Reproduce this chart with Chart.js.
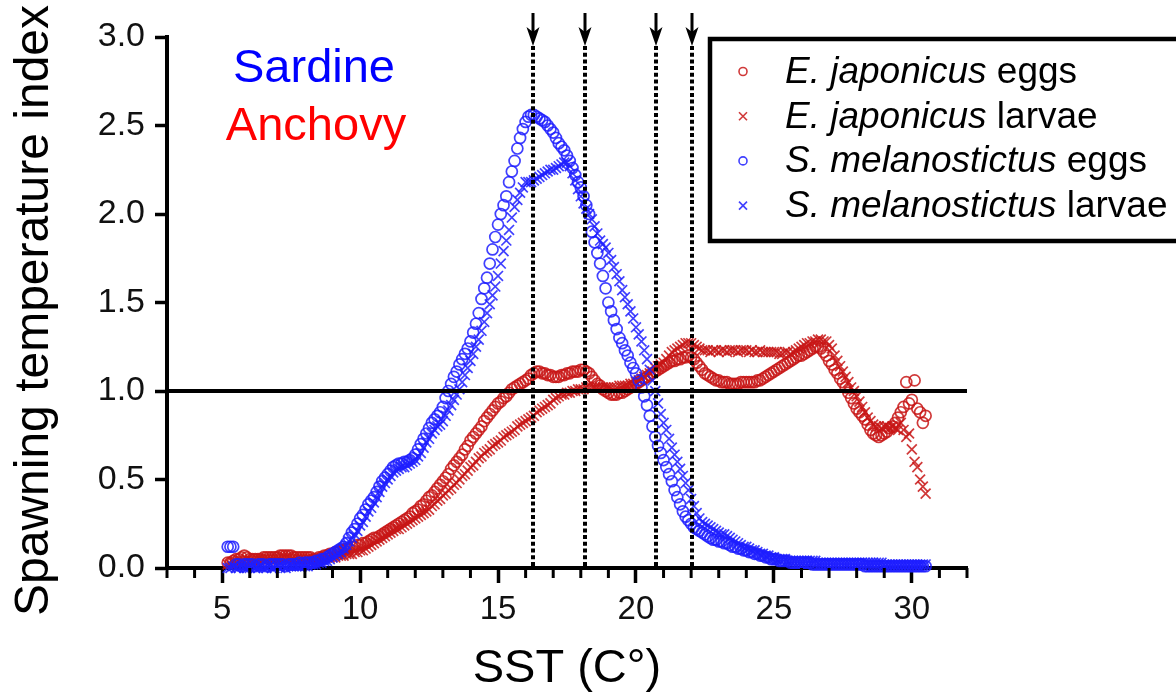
<!DOCTYPE html>
<html>
<head>
<meta charset="utf-8">
<script src="https://cdn.jsdelivr.net/npm/chart.js@4.4.1/dist/chart.umd.min.js"></script>
<style>
html, body { margin: 0; padding: 0; background: #fff; }
canvas { display: block; }
</style>
</head>
<body>
<canvas id="sstChart" width="1176" height="697"></canvas>
<script>
// SST grid: first value at 5.2 °C, one value every 0.1 °C
const sstStart = 5.2;
const sstStep = 0.1;

// S. melanostictus (sardine) eggs
const sardineEggs = [
    0.12, 0.12, 0.12, 0.02, 0.02, 0.01, 0.02, 0.02,
    0.02, 0.02, 0.01, 0.02, 0.02, 0.02, 0.01, 0.02, 0.02, 0.02,
    0.02, 0.02, 0.02, 0.01, 0.02, 0.02, 0.02, 0.02, 0.03, 0.02,
    0.03, 0.03, 0.03, 0.03, 0.04, 0.04, 0.05, 0.05, 0.06, 0.07,
    0.08, 0.09, 0.10, 0.11, 0.12, 0.14, 0.17, 0.20, 0.22, 0.25,
    0.28, 0.30, 0.33, 0.36, 0.38, 0.40, 0.43, 0.46, 0.49, 0.51,
    0.53, 0.55, 0.57, 0.58, 0.59, 0.59, 0.60, 0.60, 0.61, 0.62,
    0.64, 0.67, 0.70, 0.73, 0.76, 0.79, 0.82, 0.84, 0.86, 0.88,
    0.91, 0.96, 1.00, 1.04, 1.08, 1.11, 1.15, 1.18, 1.21, 1.24,
    1.28, 1.33, 1.38, 1.44, 1.52, 1.58, 1.64, 1.72, 1.80, 1.87,
    1.94, 2.00, 2.05, 2.10, 2.18, 2.24, 2.30, 2.37, 2.43, 2.48,
    2.52, 2.55, 2.56, 2.56, 2.55, 2.54, 2.53, 2.52, 2.50, 2.48,
    2.46, 2.43, 2.40, 2.38, 2.36, 2.33, 2.30, 2.26, 2.22, 2.18,
    2.15, 2.10, 2.05, 2.00, 1.90, 1.84, 1.78, 1.72, 1.65, 1.58,
    1.50, 1.45, 1.40, 1.35, 1.30, 1.27, 1.23, 1.20, 1.16, 1.13,
    1.10, 1.06, 1.02, 0.97, 0.92, 0.86, 0.80, 0.74, 0.69, 0.65,
    0.61, 0.57, 0.53, 0.49, 0.44, 0.40, 0.36, 0.32, 0.29, 0.27,
    0.25, 0.23, 0.22, 0.21, 0.20, 0.19, 0.18, 0.17, 0.16, 0.16,
    0.15, 0.15, 0.14, 0.14, 0.13, 0.12, 0.12, 0.11, 0.11, 0.10,
    0.10, 0.09, 0.09, 0.08, 0.08, 0.07, 0.07, 0.06, 0.06, 0.05,
    0.05, 0.05, 0.04, 0.04, 0.04, 0.04, 0.03, 0.03, 0.03, 0.03,
    0.03, 0.03, 0.03, 0.03, 0.02, 0.02, 0.02, 0.02, 0.02, 0.02,
    0.02, 0.02, 0.02, 0.02, 0.02, 0.02, 0.02, 0.02, 0.02, 0.02,
    0.02, 0.02, 0.02, 0.01, 0.01, 0.01, 0.01, 0.01, 0.01, 0.01,
    0.01, 0.01, 0.01, 0.01, 0.01, 0.01, 0.01, 0.01, 0.01, 0.01,
    0.01, 0.01, 0.01, 0.01, 0.01, 0.01
];

// S. melanostictus (sardine) larvae
const sardineLarvae = [
    0.00, 0.00, 0.01, 0.00, 0.00, 0.01, 0.00, 0.00,
    0.00, 0.01, 0.00, 0.00, 0.01, 0.00, 0.00, 0.01, 0.00, 0.00,
    0.01, 0.00, 0.01, 0.00, 0.01, 0.01, 0.01, 0.01, 0.01, 0.01,
    0.01, 0.01, 0.02, 0.02, 0.02, 0.03, 0.03, 0.04, 0.04, 0.05,
    0.06, 0.07, 0.08, 0.09, 0.11, 0.13, 0.15, 0.17, 0.19, 0.21,
    0.24, 0.26, 0.29, 0.32, 0.34, 0.37, 0.40, 0.43, 0.46, 0.48,
    0.50, 0.52, 0.54, 0.55, 0.56, 0.57, 0.57, 0.58, 0.59, 0.60,
    0.61, 0.63, 0.65, 0.68, 0.71, 0.73, 0.76, 0.78, 0.80, 0.81,
    0.83, 0.86, 0.89, 0.92, 0.95, 0.98, 1.01, 1.05, 1.09, 1.13,
    1.17, 1.21, 1.25, 1.29, 1.34, 1.39, 1.44, 1.49, 1.54, 1.59,
    1.65, 1.72, 1.79, 1.85, 1.91, 1.98, 2.04, 2.08, 2.12, 2.15,
    2.18, 2.18, 2.18, 2.19, 2.20, 2.21, 2.22, 2.23, 2.24, 2.25,
    2.25, 2.26, 2.27, 2.28, 2.29, 2.29, 2.27, 2.23, 2.19, 2.14,
    2.10, 2.06, 2.03, 2.00, 1.97, 1.93, 1.89, 1.85, 1.83, 1.81,
    1.78, 1.74, 1.70, 1.66, 1.62, 1.57, 1.53, 1.49, 1.45, 1.41,
    1.36, 1.32, 1.28, 1.23, 1.18, 1.12, 1.06, 1.00, 0.93, 0.87,
    0.82, 0.78, 0.73, 0.68, 0.64, 0.60, 0.56, 0.52, 0.48, 0.44,
    0.39, 0.35, 0.31, 0.28, 0.26, 0.25, 0.24, 0.23, 0.22, 0.21,
    0.20, 0.19, 0.19, 0.18, 0.17, 0.16, 0.15, 0.14, 0.13, 0.12,
    0.12, 0.11, 0.10, 0.10, 0.09, 0.08, 0.08, 0.07, 0.07, 0.06,
    0.06, 0.05, 0.05, 0.05, 0.05, 0.04, 0.04, 0.04, 0.04, 0.04,
    0.04, 0.04, 0.04, 0.04, 0.04, 0.04, 0.03, 0.03, 0.03, 0.03,
    0.03, 0.03, 0.03, 0.03, 0.03, 0.03, 0.03, 0.03, 0.03, 0.03,
    0.03, 0.03, 0.03, 0.03, 0.03, 0.03, 0.03, 0.03, 0.03, 0.03,
    0.02, 0.02, 0.02, 0.02, 0.02, 0.02, 0.02, 0.02, 0.02, 0.02,
    0.02, 0.02, 0.02, 0.02, 0.02, 0.02
];

// E. japonicus (anchovy) eggs
const anchovyEggs = [
    0.03, 0.03, 0.04, 0.05, 0.05, 0.06, 0.07, 0.06,
    0.05, 0.05, 0.05, 0.05, 0.05, 0.06, 0.06, 0.06, 0.06, 0.06,
    0.06, 0.07, 0.07, 0.07, 0.07, 0.07, 0.06, 0.06, 0.06, 0.06,
    0.06, 0.06, 0.06, 0.05, 0.05, 0.06, 0.06, 0.07, 0.07, 0.08,
    0.08, 0.09, 0.09, 0.10, 0.10, 0.11, 0.11, 0.12, 0.12, 0.13,
    0.13, 0.14, 0.14, 0.15, 0.16, 0.17, 0.17, 0.18, 0.19, 0.20,
    0.21, 0.22, 0.23, 0.24, 0.25, 0.26, 0.27, 0.28, 0.29, 0.31,
    0.32, 0.33, 0.35, 0.36, 0.38, 0.40, 0.41, 0.43, 0.45, 0.47,
    0.49, 0.51, 0.53, 0.56, 0.58, 0.60, 0.62, 0.64, 0.67, 0.69,
    0.72, 0.74, 0.76, 0.78, 0.80, 0.83, 0.85, 0.87, 0.89, 0.91,
    0.93, 0.94, 0.96, 0.97, 0.99, 1.01, 1.02, 1.03, 1.04, 1.05,
    1.06, 1.07, 1.09, 1.10, 1.11, 1.11, 1.10, 1.10, 1.09, 1.09,
    1.08, 1.08, 1.08, 1.09, 1.09, 1.10, 1.10, 1.11, 1.11, 1.11,
    1.12, 1.12, 1.11, 1.10, 1.08, 1.06, 1.04, 1.03, 1.01, 1.00,
    0.99, 0.98, 0.98, 0.98, 0.99, 0.99, 1.00, 1.01, 1.02, 1.03,
    1.04, 1.05, 1.06, 1.07, 1.08, 1.09, 1.10, 1.11, 1.12, 1.13,
    1.14, 1.15, 1.16, 1.17, 1.17, 1.18, 1.18, 1.19, 1.19, 1.20,
    1.19, 1.18, 1.16, 1.14, 1.12, 1.10, 1.09, 1.08, 1.07, 1.06,
    1.06, 1.05, 1.05, 1.05, 1.04, 1.04, 1.04, 1.04, 1.05, 1.05,
    1.05, 1.05, 1.05, 1.05, 1.06, 1.06, 1.07, 1.08, 1.09, 1.10,
    1.11, 1.12, 1.13, 1.14, 1.15, 1.16, 1.17, 1.18, 1.19, 1.20,
    1.20, 1.21, 1.22, 1.23, 1.24, 1.25, 1.25, 1.24, 1.22, 1.20,
    1.17, 1.15, 1.12, 1.10, 1.07, 1.05, 1.02, 0.99, 0.96, 0.93,
    0.90, 0.88, 0.86, 0.84, 0.81, 0.78, 0.76, 0.75, 0.74, 0.75,
    0.76, 0.77, 0.79, 0.80, 0.82, 0.85, 0.88, 0.91, 1.05, 0.93,
    0.95, 1.06, 0.90, 0.88, 0.82, 0.86
];

// E. japonicus (anchovy) larvae
const anchovyLarvae = [
    0.02, 0.02, 0.03, 0.03, 0.04, 0.04, 0.04, 0.05,
    0.04, 0.04, 0.04, 0.05, 0.05, 0.05, 0.05, 0.05, 0.05, 0.05,
    0.05, 0.05, 0.06, 0.06, 0.06, 0.05, 0.05, 0.05, 0.05, 0.05,
    0.05, 0.05, 0.05, 0.05, 0.05, 0.05, 0.05, 0.06, 0.06, 0.06,
    0.06, 0.06, 0.07, 0.07, 0.07, 0.08, 0.08, 0.08, 0.09, 0.09,
    0.10, 0.10, 0.11, 0.12, 0.13, 0.14, 0.15, 0.16, 0.17, 0.18,
    0.19, 0.20, 0.21, 0.22, 0.22, 0.23, 0.24, 0.25, 0.26, 0.27,
    0.28, 0.29, 0.30, 0.31, 0.32, 0.33, 0.35, 0.36, 0.38, 0.39,
    0.41, 0.42, 0.44, 0.45, 0.47, 0.48, 0.50, 0.52, 0.53, 0.55,
    0.57, 0.58, 0.60, 0.62, 0.63, 0.65, 0.66, 0.67, 0.69, 0.70,
    0.71, 0.72, 0.74, 0.75, 0.76, 0.77, 0.78, 0.80, 0.81, 0.82,
    0.83, 0.84, 0.85, 0.86, 0.88, 0.89, 0.90, 0.91, 0.92, 0.93,
    0.95, 0.96, 0.97, 0.98, 0.98, 0.99, 0.99, 1.00, 1.00, 1.01,
    1.01, 1.01, 1.02, 1.02, 1.02, 1.02, 1.02, 1.02, 1.02, 1.02,
    1.02, 1.02, 1.02, 1.02, 1.03, 1.03, 1.03, 1.03, 1.04, 1.04,
    1.05, 1.06, 1.07, 1.08, 1.09, 1.10, 1.11, 1.13, 1.14, 1.15,
    1.16, 1.18, 1.20, 1.22, 1.23, 1.24, 1.25, 1.26, 1.27, 1.27,
    1.27, 1.26, 1.25, 1.24, 1.23, 1.23, 1.23, 1.22, 1.23, 1.23,
    1.22, 1.23, 1.23, 1.22, 1.23, 1.23, 1.23, 1.22, 1.23, 1.23,
    1.23, 1.22, 1.23, 1.22, 1.22, 1.23, 1.22, 1.22, 1.22, 1.22,
    1.22, 1.22, 1.21, 1.21, 1.22, 1.22, 1.21, 1.22, 1.23, 1.24,
    1.25, 1.26, 1.27, 1.27, 1.28, 1.28, 1.29, 1.29, 1.28, 1.28,
    1.26, 1.24, 1.20, 1.17, 1.14, 1.11, 1.08, 1.05, 1.02, 1.00,
    0.97, 0.94, 0.91, 0.88, 0.85, 0.83, 0.81, 0.80, 0.80, 0.79,
    0.80, 0.80, 0.79, 0.80, 0.79, 0.78, 0.82, 0.78, 0.74, 0.76,
    0.67, 0.60, 0.57, 0.50, 0.46, 0.42
];

// dotted marker lines (°C) and the index = 1 reference
const markerTemps = [16.27, 18.17, 20.74, 22.02];
const referenceIndex = 1.0;

const RED = 'rgba(200, 22, 22, 0.85)';
const BLUE = 'rgba(30, 30, 255, 0.85)';
const FONT = '"Liberation Sans", Arial, Helvetica, sans-serif';

const legendRows = [
    { italic: 'E. japonicus', plain: ' eggs', color: RED, shape: 'circle' },
    { italic: 'E. japonicus', plain: ' larvae', color: RED, shape: 'cross' },
    { italic: 'S. melanostictus', plain: ' eggs', color: BLUE, shape: 'circle' },
    { italic: 'S. melanostictus', plain: ' larvae', color: BLUE, shape: 'cross' }
];

function toPoints(values) {
    return values.map((v, i) => ({ x: +(sstStart + i * sstStep).toFixed(1), y: v }));
}

Chart.defaults.font.family = FONT;
Chart.defaults.color = '#111';

const overlayPlugin = {
    id: 'overlay',
    afterDatasetsDraw(chart) {
        const { ctx, scales: { x, y } } = chart;
        ctx.save();
        ctx.strokeStyle = '#000';
        ctx.fillStyle = '#000';

        // horizontal reference line
        const yRef = y.getPixelForValue(referenceIndex);
        ctx.lineWidth = 4;
        ctx.beginPath();
        ctx.moveTo(x.left, yRef);
        ctx.lineTo(x.right, yRef);
        ctx.stroke();

        // dotted vertical lines with arrow heads
        const yBase = y.getPixelForValue(0);
        markerTemps.forEach(t => {
            const px = Math.round(x.getPixelForValue(t));
            ctx.setLineDash([]);
            ctx.lineWidth = 3;
            ctx.beginPath();
            ctx.moveTo(px, 13);
            ctx.lineTo(px, 32);
            ctx.stroke();
            ctx.beginPath();
            ctx.moveTo(px - 6.5, 27);
            ctx.lineTo(px, 32);
            ctx.lineTo(px + 6.5, 27);
            ctx.lineTo(px, 46);
            ctx.closePath();
            ctx.fill();
            ctx.setLineDash([4, 2.7]);
            ctx.lineWidth = 4;
            ctx.beginPath();
            ctx.moveTo(px, 46);
            ctx.lineTo(px, yBase);
            ctx.stroke();
        });
        ctx.setLineDash([]);

        // minor x ticks
        ctx.lineWidth = 3;
        x.ticks.forEach(tk => {
            if (tk.value % 5 === 0) return;
            const px = x.getPixelForValue(tk.value);
            ctx.beginPath();
            ctx.moveTo(px, yBase);
            ctx.lineTo(px, yBase + 10);
            ctx.stroke();
        });
        ctx.restore();
    },
    afterDraw(chart) {
        const { ctx, scales: { y } } = chart;
        ctx.save();

        // y axis title
        ctx.translate(35, (y.top + y.bottom) / 2 + 8);
        ctx.rotate(-Math.PI / 2);
        ctx.font = '48px ' + FONT;
        ctx.textAlign = 'center';
        ctx.textBaseline = 'middle';
        ctx.fillStyle = '#000';
        ctx.fillText('Spawning temperature index', 0, 0);
        ctx.setTransform(1, 0, 0, 1, 0, 0);

        // species labels
        ctx.font = '47px ' + FONT;
        ctx.textAlign = 'center';
        ctx.textBaseline = 'alphabetic';
        ctx.fillStyle = '#0000ff';
        ctx.fillText('Sardine', 314, 82);
        ctx.fillStyle = '#ff0000';
        ctx.fillText('Anchovy', 316, 140);

        // legend box
        ctx.strokeStyle = '#000';
        ctx.lineWidth = 4.5;
        ctx.strokeRect(710, 39, 480, 202);

        ctx.textAlign = 'left';
        legendRows.forEach((row, i) => {
            const base = 83 + i * 44.7;
            const my = base - 11.5;
            ctx.strokeStyle = row.color;
            ctx.lineWidth = 1.6;
            ctx.beginPath();
            if (row.shape === 'circle') {
                ctx.arc(743, my, 4, 0, Math.PI * 2);
            } else {
                ctx.moveTo(739, my - 4); ctx.lineTo(747, my + 4);
                ctx.moveTo(747, my - 4); ctx.lineTo(739, my + 4);
            }
            ctx.stroke();

            ctx.fillStyle = '#000';
            ctx.font = 'italic 37px ' + FONT;
            ctx.fillText(row.italic, 785, base);
            const w = ctx.measureText(row.italic).width;
            ctx.font = '37px ' + FONT;
            ctx.fillText(row.plain, 785 + w, base);
        });
        ctx.restore();
    }
};

function seriesStyle(color, shape) {
    const r = shape === 'circle' ? 5.5 : 7;
    return {
        showLine: false,
        pointStyle: shape,
        pointRadius: r,
        pointHoverRadius: r,
        pointBorderWidth: 1.7,
        pointBorderColor: color,
        pointBackgroundColor: 'rgba(0,0,0,0)',
        borderColor: color,
        backgroundColor: 'rgba(0,0,0,0)',
        clip: false
    };
}

new Chart(document.getElementById('sstChart').getContext('2d'), {
    type: 'scatter',
    data: {
        datasets: [
            Object.assign({ label: 'S. melanostictus eggs', data: toPoints(sardineEggs) }, seriesStyle(BLUE, 'circle')),
            Object.assign({ label: 'S. melanostictus larvae', data: toPoints(sardineLarvae) }, seriesStyle(BLUE, 'crossRot')),
            Object.assign({ label: 'E. japonicus eggs', data: toPoints(anchovyEggs) }, seriesStyle(RED, 'circle')),
            Object.assign({ label: 'E. japonicus larvae', data: toPoints(anchovyLarvae) }, seriesStyle(RED, 'crossRot'))
        ]
    },
    options: {
        responsive: false,
        animation: false,
        devicePixelRatio: 1,
        layout: { padding: { top: 37, right: 209, left: 0, bottom: 0 } },
        plugins: {
            legend: { display: false },
            tooltip: { enabled: false }
        },
        scales: {
            x: {
                type: 'linear',
                min: 3,
                max: 32,
                afterFit: s => { s.height = 129; },
                border: { display: true, color: '#000', width: 4 },
                grid: {
                    drawOnChartArea: false,
                    tickLength: 15,
                    tickWidth: 3.5,
                    tickColor: c => (c.tick && c.tick.value % 5 === 0) ? '#000' : 'rgba(0,0,0,0)'
                },
                ticks: {
                    stepSize: 1,
                    autoSkip: false,
                    maxRotation: 0,
                    padding: 7,
                    font: { size: 33 },
                    color: '#111',
                    callback: v => (v % 5 === 0 ? String(v) : '')
                },
                title: {
                    display: true,
                    text: 'SST (C°)',
                    color: '#000',
                    font: { size: 47 },
                    padding: { top: 0, bottom: 0 }
                }
            },
            y: {
                min: 0,
                max: 3,
                afterFit: s => { s.width = 167; },
                border: { display: true, color: '#000', width: 4 },
                grid: {
                    drawOnChartArea: false,
                    tickLength: 12,
                    tickWidth: 3.5,
                    tickColor: '#000'
                },
                ticks: {
                    stepSize: 0.5,
                    padding: 10,
                    font: { size: 34 },
                    color: '#111',
                    callback: v => v.toFixed(1)
                },
                title: { display: false }
            }
        }
    },
    plugins: [overlayPlugin]
});
</script>
</body>
</html>
